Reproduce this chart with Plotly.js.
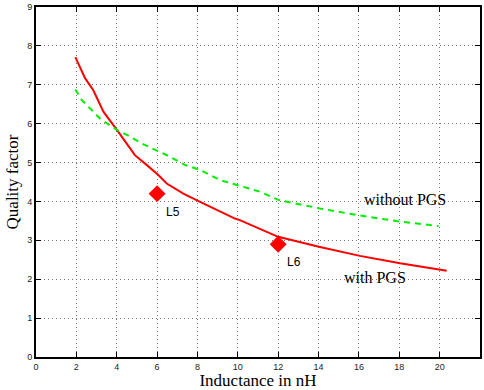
<!DOCTYPE html>
<html><head><meta charset="utf-8">
<script src="https://cdn.plot.ly/plotly-3.0.1.min.js"></script>
<style>body{margin:0}#c{width:484px;height:390px}</style>
</head><body><div id="c"></div>
<script>
const withX = [1.95, 2.43, 2.84, 3.34, 4.08, 4.9, 5.48, 6.06, 6.48, 7.3, 8.13, 9.1, 9.86, 10.1, 12.0, 14.07, 16.05, 18.04, 20.35];
const withY = [7.71, 7.17, 6.86, 6.31, 5.79, 5.19, 4.94, 4.68, 4.46, 4.2, 3.99, 3.74, 3.56, 3.52, 3.09, 2.83, 2.6, 2.41, 2.22];
const withoutX = [1.95, 2.26, 2.76, 3.17, 4.0, 4.66, 5.24, 5.98, 6.64, 7.38, 8.13, 9.12, 10.27, 11.1, 12.0, 14.07, 15.9, 18.04, 19.94];
const withoutY = [6.88, 6.61, 6.35, 6.13, 5.84, 5.67, 5.49, 5.32, 5.15, 4.94, 4.81, 4.55, 4.38, 4.25, 4.04, 3.82, 3.65, 3.48, 3.37];
const markX = [6, 12];
const markY = [4.2, 2.9];
const markLabels = ["L5", "L6"];

const traces = [
  {x: withX, y: withY, mode: 'lines', line: {color: '#ff0000', width: 2}, hoverinfo: 'none'},
  {x: withoutX, y: withoutY, mode: 'lines', line: {color: '#00ee00', width: 2, dash: '6px,5px'}, hoverinfo: 'none'},
  {x: markX, y: markY, mode: 'markers', marker: {symbol: 'diamond', color: '#ff0000', size: 13}, hoverinfo: 'none'}
];
const ann = markX.map((x, i) => ({x: x, y: markY[i], xref: 'x', yref: 'y', text: markLabels[i], showarrow: false,
  xanchor: 'left', yanchor: 'top', xshift: 7, yshift: -9, font: {family: 'Liberation Sans, Arial', size: 12, color: '#000'}}));
ann.push({x: 18.3, y: 4.05, xref: 'x', yref: 'y', text: 'without PGS', showarrow: false,
  font: {family: 'Liberation Serif, Times New Roman', size: 16, color: '#000'}});
ann.push({x: 16.8, y: 2.05, xref: 'x', yref: 'y', text: 'with PGS', showarrow: false,
  font: {family: 'Liberation Serif, Times New Roman', size: 16, color: '#000'}});

const axCommon = {
  showline: true, linecolor: '#000', linewidth: 2, mirror: 'ticks', ticks: 'inside', ticklen: 5, tickcolor: '#000',
  showgrid: true, gridcolor: '#777', griddash: '1px,3px', gridwidth: 1, zeroline: false,
  tickfont: {family: 'Liberation Sans, Arial', size: 9, color: '#222'}
};
const layout = {
  width: 484, height: 390, margin: {l: 36, r: 4, t: 7, b: 33},
  paper_bgcolor: '#fff', plot_bgcolor: '#fff', showlegend: false,
  xaxis: Object.assign({}, axCommon, {range: [0, 22], dtick: 2, tick0: 0,
    title: {text: 'Inductance in nH', font: {family: 'Liberation Serif, Times New Roman', size: 17, color: '#000'}, standoff: 2}}),
  yaxis: Object.assign({}, axCommon, {range: [0, 9], dtick: 1, tick0: 0,
    title: {text: 'Quality factor', font: {family: 'Liberation Serif, Times New Roman', size: 17, color: '#000'}, standoff: 4}}),
  annotations: ann
};
Plotly.newPlot('c', traces, layout, {displayModeBar: false, staticPlot: true});
</script></body></html>
